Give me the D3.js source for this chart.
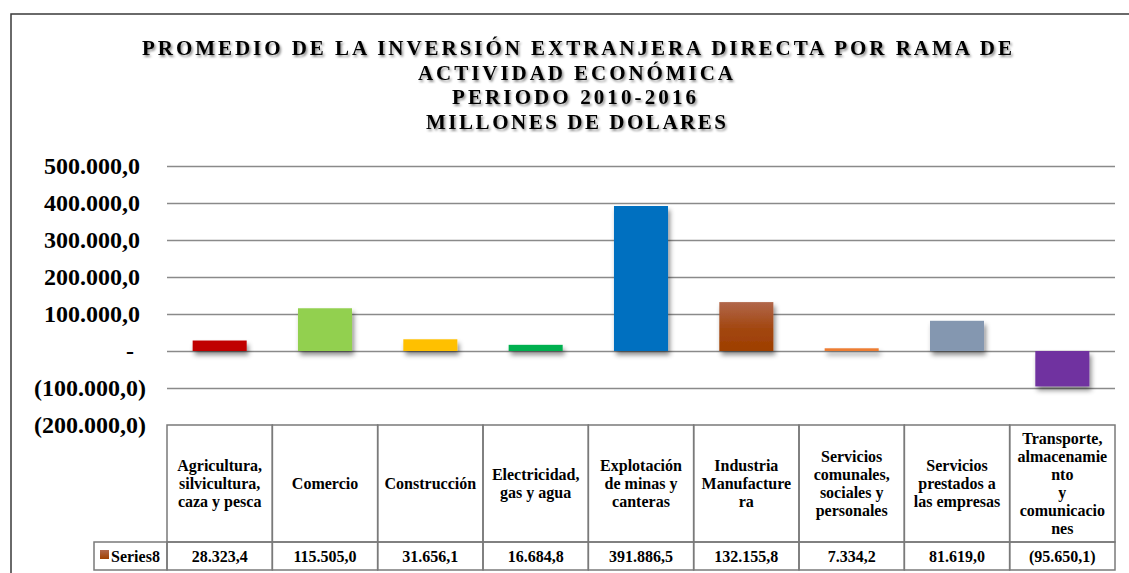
<!DOCTYPE html>
<html>
<head>
<meta charset="utf-8">
<script src="https://cdn.jsdelivr.net/npm/d3@7"></script>
<style>
  html, body { margin: 0; padding: 0; background: #fff; }
  svg { display: block; }
  text { font-family: "Liberation Serif", "Times New Roman", serif; font-weight: bold; fill: #000; }
</style>
</head>
<body>
<svg id="chart" width="1129" height="573"></svg>
<script>
// ---------- DATA ----------
const titleLines = [
  "PROMEDIO DE LA INVERSIÓN EXTRANJERA DIRECTA POR RAMA DE",
  "ACTIVIDAD ECONÓMICA",
  "PERIODO 2010-2016",
  "MILLONES DE DOLARES"
];
const categories = [
  "Agricultura, silvicultura, caza y pesca",
  "Comercio",
  "Construcción",
  "Electricidad, gas y agua",
  "Explotación de minas y canteras",
  "Industria Manufacturera",
  "Servicios comunales, sociales y personales",
  "Servicios prestados a las empresas",
  "Transporte, almacenamiento y comunicaciones"
];
const categoryLabelLines = [
  ["Agricultura,", "silvicultura,", "caza y pesca"],
  ["Comercio"],
  ["Construcción"],
  ["Electricidad,", "gas y agua"],
  ["Explotación", "de minas y", "canteras"],
  ["Industria", "Manufacture", "ra"],
  ["Servicios", "comunales,", "sociales y", "personales"],
  ["Servicios", "prestados a", "las empresas"],
  ["Transporte,", "almacenamie", "nto", "y", "comunicacio", "nes"]
];
const seriesName = "Series8";
const values = [28323.4, 115505.0, 31656.1, 16684.8, 391886.5, 132155.8, 7334.2, 81619.0, -95650.1];
const yTicks = [-200000, -100000, 0, 100000, 200000, 300000, 400000, 500000];

// ---------- STYLE ----------
const barColors = ["#c00000", "#92d050", "#ffc000", "#00b050", "#0070c0", "url(#gradBrown)", "#ed7d31", "#8497b0", "#7030a0"];

const svg = d3.select("#chart");
const defs = svg.append("defs");

const shadow = defs.append("filter").attr("id", "barShadow")
  .attr("x", "-30%").attr("y", "-30%").attr("width", "160%").attr("height", "160%");
shadow.append("feDropShadow").attr("dx", 2).attr("dy", 4).attr("stdDeviation", 2.5)
  .attr("flood-color", "#000").attr("flood-opacity", 0.45);

const tshadow = defs.append("filter").attr("id", "titleShadow")
  .attr("x", "-5%").attr("y", "-30%").attr("width", "110%").attr("height", "160%");
tshadow.append("feDropShadow").attr("dx", 1.5).attr("dy", 2).attr("stdDeviation", 1.2)
  .attr("flood-color", "#000").attr("flood-opacity", 0.45);

const grad = defs.append("linearGradient").attr("id", "gradBrown")
  .attr("x1", 0).attr("y1", 0).attr("x2", 0).attr("y2", 1);
grad.append("stop").attr("offset", "0%").attr("stop-color", "#b1674b");
grad.append("stop").attr("offset", "55%").attr("stop-color", "#a2460f");
grad.append("stop").attr("offset", "100%").attr("stop-color", "#9e3f00");

const kgrad = defs.append("linearGradient").attr("id", "gradKey")
  .attr("x1", 0).attr("y1", 0).attr("x2", 0).attr("y2", 1);
kgrad.append("stop").attr("offset", "0%").attr("stop-color", "#b1674b");
kgrad.append("stop").attr("offset", "100%").attr("stop-color", "#a04000");

// outer frame
svg.append("rect").attr("x", 11).attr("y", 14).attr("width", 1300).attr("height", 700)
  .attr("fill", "none").attr("stroke", "#3a3a3a").attr("stroke-width", 1.5);

// title
const titleX = [142, 418, 452, 426];
const titleW = [870, 315, 244, 300];
const titleY = [55, 79.5, 104, 128.5];
svg.append("g").attr("filter", "url(#titleShadow)")
  .selectAll("text").data(titleLines).join("text")
  .attr("x", (d, i) => titleX[i]).attr("y", (d, i) => titleY[i])
  .attr("font-size", 21)
  .attr("textLength", (d, i) => titleW[i]).attr("lengthAdjust", "spacing")
  .text(d => d);

// scales
const plotLeft = 167, plotRight = 1115, tableTop = 425;
const y = d3.scaleLinear().domain([-200000, 500000]).range([tableTop, 166]);
const cols = d3.scaleBand().domain(categories).range([plotLeft, plotRight]).padding(0);
const x = d3.scaleBand().domain(categories).range([plotLeft, plotRight])
  .paddingInner(0.487).paddingOuter(0.2435);

// number format
const loc = d3.formatLocale({ decimal: ",", thousands: ".", grouping: [3], currency: ["", ""] });
const f1 = loc.format(",.1f");
const fmt = v => v < 0 ? "(" + f1(-v) + ")" : (v === 0 ? "-" : f1(v));

// gridlines via axis
const yAxis = d3.axisLeft(y).tickValues(yTicks).tickSizeInner(-(plotRight - plotLeft)).tickSizeOuter(0).tickFormat("");
const gAxis = svg.append("g").attr("transform", `translate(${plotLeft},0)`).call(yAxis);
gAxis.select(".domain").remove();
gAxis.selectAll(".tick line").attr("stroke", "#8a8a8a").attr("stroke-width", 1.6);
gAxis.selectAll(".tick").filter(d => d === -200000).select("line").remove();

// y labels
svg.append("g").selectAll("text").data(yTicks).join("text")
  .attr("x", d => d < 0 ? 146 : (d === 0 ? 134 : 140))
  .attr("y", d => y(d) + 8)
  .attr("text-anchor", "end")
  .attr("font-size", 24)
  .text(d => fmt(d));

// bars
svg.append("g").attr("filter", "url(#barShadow)")
  .selectAll("rect").data(values).join("rect")
  .attr("x", (d, i) => x(categories[i]))
  .attr("width", x.bandwidth())
  .attr("y", d => y(Math.max(0, d)))
  .attr("height", d => Math.abs(y(d) - y(0)))
  .attr("fill", (d, i) => barColors[i]);

// data table
const headerBottom = 542, rowBottom = 570, legendLeft = 94;
const tg = svg.append("g");
const border = "#7a7a7a";
tg.selectAll("rect.hdr").data(categories).join("rect").attr("class", "hdr")
  .attr("x", d => cols(d)).attr("y", tableTop)
  .attr("width", cols.bandwidth()).attr("height", headerBottom - tableTop)
  .attr("fill", "none").attr("stroke", border).attr("stroke-width", 1.5);
tg.selectAll("rect.val").data(categories).join("rect").attr("class", "val")
  .attr("x", d => cols(d)).attr("y", headerBottom)
  .attr("width", cols.bandwidth()).attr("height", rowBottom - headerBottom)
  .attr("fill", "none").attr("stroke", border).attr("stroke-width", 1.5);
tg.append("rect").attr("x", legendLeft).attr("y", headerBottom)
  .attr("width", plotLeft - legendLeft).attr("height", rowBottom - headerBottom)
  .attr("fill", "none").attr("stroke", border).attr("stroke-width", 1.5);
tg.append("rect").attr("x", 100).attr("y", 550).attr("width", 9).attr("height", 9)
  .attr("fill", "url(#gradKey)");
tg.append("text").attr("x", 111).attr("y", 561.5).attr("font-size", 16).text(seriesName);

// header labels
const lineH = 18, hdrCenter = 484;
tg.selectAll("text.hdr").data(categoryLabelLines).join("text").attr("class", "hdr")
  .attr("text-anchor", "middle").attr("font-size", 16)
  .each(function (lines, i) {
    const cx = cols(categories[i]) + cols.bandwidth() / 2;
    const y0 = hdrCenter - (lines.length - 1) * lineH / 2 + 5;
    d3.select(this).selectAll("tspan").data(lines).join("tspan")
      .attr("x", cx).attr("y", (d, j) => y0 + j * lineH).text(d => d);
  });

// value labels
tg.selectAll("text.val").data(values).join("text").attr("class", "val")
  .attr("x", (d, i) => cols(categories[i]) + cols.bandwidth() / 2)
  .attr("y", 561.5).attr("text-anchor", "middle").attr("font-size", 16)
  .text(d => fmt(d));
</script>
</body>
</html>
